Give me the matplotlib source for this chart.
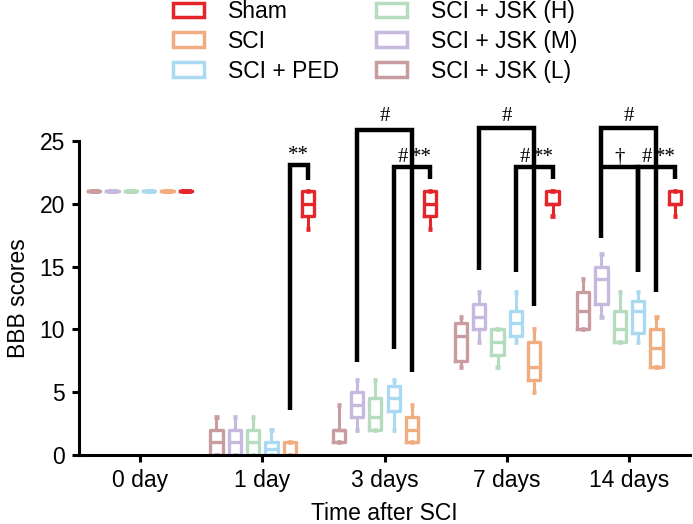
import matplotlib
matplotlib.use("Agg")
import matplotlib.pyplot as plt
from matplotlib.patches import Patch

plt.rcParams['font.family'] = ['Liberation Sans', 'DejaVu Sans']

time_labels = ['0 day', '1 day', '3 days', '7 days', '14 days']
series_names = ['SCI + JSK (L)', 'SCI + JSK (M)', 'SCI + JSK (H)', 'SCI + PED', 'SCI', 'Sham']
series_colors = ['#c99ca0', '#c6b9de', '#b5dcbf', '#a9daf2', '#f0ad80', '#e4262b']
legend_order = [5, 4, 3, 2, 1, 0]

# five-number summaries (min, q1, median, q3, max) for each time point
jsk_l = [(21, 21, 21, 21, 21), (0, 0, 1, 2, 3), (1, 1, 2, 2, 4), (7, 7.5, 9.5, 10.5, 11), (10, 10, 11.5, 13, 14)]
jsk_m = [(21, 21, 21, 21, 21), (0, 0, 1, 2, 3), (2, 3, 4, 5, 6), (9, 10, 11, 12, 13), (11, 12, 14, 15, 16)]
jsk_h = [(21, 21, 21, 21, 21), (0, 0, 1, 2, 3), (2, 2, 3, 4.5, 6), (7, 8, 9, 10, 10), (9, 9, 10, 11.5, 13)]
ped = [(21, 21, 21, 21, 21), (0, 0, 0.5, 1, 2), (2, 3.5, 4.5, 5.5, 6), (9, 9.5, 10.5, 11.5, 13), (9, 9.75, 11.5, 12.25, 13)]
sci = [(21, 21, 21, 21, 21), (0, 0, 0, 1, 1), (1, 1, 2, 3, 4), (5, 6, 7, 9, 10), (7, 7, 8.5, 10, 11)]
sham = [(21, 21, 21, 21, 21), (18, 19, 20, 21, 21), (18, 19, 20, 21, 21), (19, 20, 20, 21, 21), (19, 20, 20, 21, 21)]
all_series = [jsk_l, jsk_m, jsk_h, ped, sci, sham]

# significance brackets: time index, left series, right series, top, left end, right end
bracket_time = [1, 2, 2, 3, 3, 4, 4, 4]
bracket_left = [4, 1, 3, 1, 3, 1, 1, 3]
bracket_right = [5, 4, 5, 4, 5, 4, 3, 5]
bracket_top = [23.1, 25.9, 22.9, 26.0, 22.9, 26.0, 22.9, 22.9]
bracket_left_end = [3.6, 7.4, 8.4, 14.7, 14.6, 17.3, 22.9, 14.6]
bracket_right_end = [21.9, 6.6, 22.0, 11.9, 22.0, 13.0, 14.6, 22.0]

sig_time = [1, 2, 2, 2, 3, 3, 3, 4, 4, 4, 4]
sig_left = [4, 1, 3, 4, 1, 3, 4, 1, 1, 3, 4]
sig_right = [5, 4, 4, 5, 4, 4, 5, 4, 3, 4, 5]
sig_y = [23.5, 26.6, 23.3, 23.3, 26.6, 23.3, 23.3, 26.6, 23.3, 23.3, 23.3]
sig_text = ['**', '#', '#', '**', '#', '#', '**', '#', '\u2020', '#', '**']

offsets = [(j - 2.5) * 0.15 for j in range(6)]

fig = plt.figure(figsize=(6.93, 5.24), dpi=100)
ax = fig.add_axes([79 / 693, 69 / 524, 611 / 693, 314 / 524])

for j, (stats_list, color) in enumerate(zip(all_series, series_colors)):
    stats = [dict(whislo=s[0], q1=s[1], med=s[2], q3=s[3], whishi=s[4], fliers=[]) for s in stats_list]
    positions = [i + offsets[j] for i in range(len(stats_list))]
    caps = [0.075 if s[0] == s[4] == s[2] else 0.035 for s in stats_list]
    ax.bxp(stats, positions=positions, widths=0.1, capwidths=caps,
           showfliers=False, manage_ticks=False,
           boxprops=dict(color=color, lw=2.4),
           whiskerprops=dict(color=color, lw=2.2),
           capprops=dict(color=color, lw=3.4, solid_capstyle='butt'),
           medianprops=dict(color=color, lw=2.4))

def xpos(t, s):
    return t + offsets[s]

for t, l, r, top, le, re in zip(bracket_time, bracket_left, bracket_right,
                                bracket_top, bracket_left_end, bracket_right_end):
    ax.plot([xpos(t, l), xpos(t, l), xpos(t, r), xpos(t, r)], [le, top, top, re],
            color='black', lw=3.2, clip_on=False, solid_joinstyle='miter',
            solid_capstyle='butt', zorder=5)

for t, l, r, y, s in zip(sig_time, sig_left, sig_right, sig_y, sig_text):
    ax.text((xpos(t, l) + xpos(t, r)) / 2, y, s, ha='center', va='baseline',
            fontsize=15, family=['Liberation Serif', 'DejaVu Serif'], clip_on=False)

ax.set_xlim(-0.5, 4.5)
ax.set_ylim(0, 25)
ax.set_yticks([0, 5, 10, 15, 20, 25])
ax.set_xticks(range(len(time_labels)))
ax.set_xticklabels(time_labels)
ax.spines['top'].set_visible(False)
ax.spines['right'].set_visible(False)
for sp in ['left', 'bottom']:
    ax.spines[sp].set_linewidth(2.2)
ax.tick_params(axis='both', width=2.2, length=5, labelsize=16.5, direction='out', pad=5)
ax.set_ylabel('BBB scores', fontsize=16.5, labelpad=7)
ax.set_xlabel('Time after SCI', fontsize=16.5, labelpad=7)

handles = [Patch(facecolor='white', edgecolor=series_colors[k], lw=2.5) for k in legend_order]
labels = [series_names[k] for k in legend_order]
fig.legend(handles, labels, ncol=2, loc='upper left', bbox_to_anchor=(162 / 693, 1.022),
           frameon=False, fontsize=16.5, borderpad=0.0, handlelength=1.35, handleheight=0.6,
           handletextpad=1.05, columnspacing=1.6, labelspacing=0.3)

fig.savefig('out.png', dpi=100)
